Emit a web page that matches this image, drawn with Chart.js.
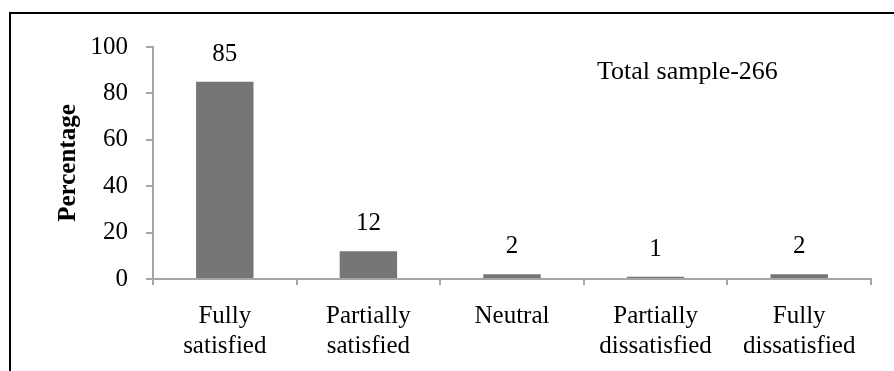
<!DOCTYPE html>
<html>
<head>
<meta charset="utf-8">
<script src="https://cdn.jsdelivr.net/npm/chart.js@4.4.1/dist/chart.umd.min.js"></script>
<style>
  html, body { margin: 0; padding: 0; background: #ffffff; overflow: hidden; }
  #frame {
    position: absolute; left: 9px; top: 12px; width: 1000px; height: 500px;
    border-left: 2px solid #000; border-top: 2px solid #000; box-sizing: border-box;
  }
  #wrap { position: absolute; left: 0; top: 0; width: 894px; height: 371px; }
</style>
</head>
<body>
<div id="frame"></div>
<div id="wrap"><canvas id="chart" width="894" height="371"></canvas></div>
<script>
// Satisfaction levels among respondents (percentage of total sample)
const categories = [
  ['Fully', 'satisfied'],
  ['Partially', 'satisfied'],
  ['Neutral'],
  ['Partially', 'dissatisfied'],
  ['Fully', 'dissatisfied']
];
const percentages = [85, 12, 2, 1, 2];
const yTicks = [0, 20, 40, 60, 80, 100];
const sampleNote = 'Total sample-266';

const SERIF = '"Liberation Serif", "Times New Roman", Times, serif';
const AXIS_GREY = '#a6a6a6';

// Writes each bar's value above it and the sample-size note
const valueLabels = {
  id: 'valueLabels',
  afterDatasetsDraw(chart) {
    const ctx = chart.ctx;
    const meta = chart.getDatasetMeta(0);
    ctx.save();
    ctx.fillStyle = '#000';
    ctx.font = '25px ' + SERIF;
    ctx.textAlign = 'center';
    ctx.textBaseline = 'alphabetic';
    meta.data.forEach((bar, i) => {
      ctx.fillText(String(percentages[i]), bar.x, bar.y - 21);
    });
    ctx.font = '26px ' + SERIF;
    ctx.textAlign = 'left';
    ctx.fillText(sampleNote, 597, 79);
    ctx.restore();
  }
};

new Chart(document.getElementById('chart'), {
  type: 'bar',
  data: {
    labels: categories,
    datasets: [{
      data: percentages,
      backgroundColor: '#767676',
      borderWidth: 0,
      barPercentage: 0.4,
      categoryPercentage: 1.0
    }]
  },
  options: {
    responsive: false,
    animation: false,
    devicePixelRatio: 1,
    layout: { padding: { left: 42, top: 47, right: 23, bottom: 0 } },
    plugins: {
      legend: { display: false },
      tooltip: { enabled: false }
    },
    scales: {
      x: {
        offset: true,
        afterFit(axis) { axis.height = 92; },
        grid: {
          offset: true,
          drawOnChartArea: false,
          drawTicks: true,
          tickLength: 6,
          color: AXIS_GREY,
          lineWidth: 2
        },
        border: { display: true, color: AXIS_GREY, width: 2 },
        ticks: {
          color: '#000',
          font: { family: SERIF, size: 25, lineHeight: 1.2 },
          padding: 16,
          maxRotation: 0,
          autoSkip: false
        }
      },
      y: {
        min: 0,
        max: 100,
        afterBuildTicks(axis) { axis.ticks = yTicks.map(v => ({ value: v })); },
        afterFit(axis) { axis.width = 111; },
        grid: {
          drawOnChartArea: false,
          drawTicks: true,
          tickLength: 7,
          color: AXIS_GREY,
          lineWidth: 2
        },
        border: { display: true, color: AXIS_GREY, width: 2 },
        ticks: {
          color: '#000',
          font: { family: SERIF, size: 25 },
          padding: 18
        },
        title: {
          display: true,
          text: 'Percentage',
          color: '#000',
          font: { family: SERIF, size: 25, weight: 'bold', lineHeight: 1.2 },
          padding: { top: 12, bottom: 0 }
        }
      }
    }
  },
  plugins: [valueLabels]
});
</script>
</body>
</html>
